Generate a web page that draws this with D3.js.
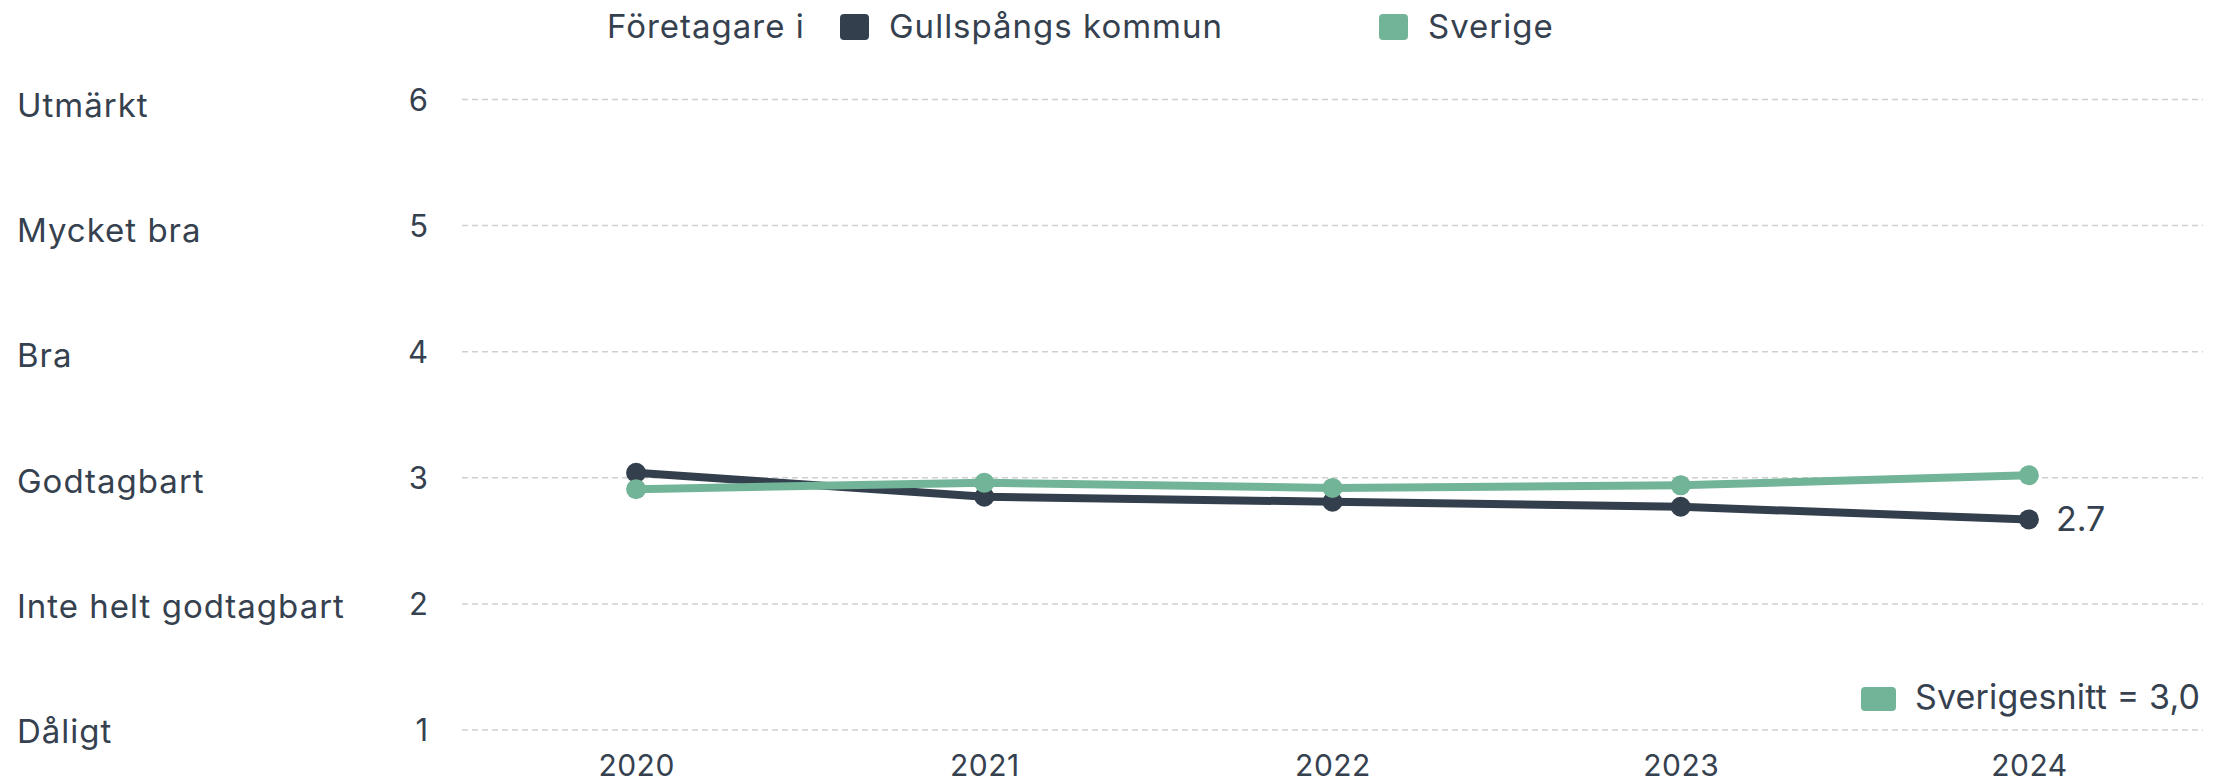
<!DOCTYPE html>
<html>
<head>
<meta charset="utf-8">
<script src="https://cdn.jsdelivr.net/npm/d3@7"></script>
<style>
  body { margin: 0; background: #fff; }
  svg text { font-family: Inter, "Noto Sans", sans-serif; fill: #36414f; }
</style>
</head>
<body>
<svg id="chart"></svg>
<script>
// data
var years = ["2020", "2021", "2022", "2023", "2024"];
var kommunValues = [3.04, 2.85, 2.81, 2.77, 2.67];
var sverigeValues = [2.91, 2.96, 2.92, 2.94, 3.02];
var yTicks = [1, 2, 3, 4, 5, 6];
var yCategories = ["Dåligt", "Inte helt godtagbart", "Godtagbart", "Bra", "Mycket bra", "Utmärkt"];
var seriesNames = ["Gullspångs kommun", "Sverige"];
var lastLabel = "2.7";
var averageLabel = "Sverigesnitt = 3,0";

var width = 2229, height = 784;
var dark = "#333f4c", green = "#72b497";

var svg = d3.select("#chart")
    .attr("width", width)
    .attr("height", height);

// scales
var xScale = d3.scalePoint()
    .domain(years)
    .range([462, 2203])
    .padding(0.5);

var yScale = d3.scaleLinear()
    .domain([1, 6])
    .range([730, 99.5]);

// the word labels sit a bit lower than the grid lines at the top
var labelScale = d3.scaleLinear()
    .domain([1, 6])
    .range([731, 105]);

// grid lines
svg.append("g")
    .selectAll("line")
    .data(yTicks)
    .join("line")
    .attr("x1", 462)
    .attr("x2", 2203)
    .attr("y1", function(d) { return yScale(d); })
    .attr("y2", function(d) { return yScale(d); })
    .attr("stroke", "#cfcfcf")
    .attr("stroke-width", 1.5)
    .attr("stroke-dasharray", "6,4");

// y tick numbers
svg.append("g")
    .selectAll("text")
    .data(yTicks)
    .join("text")
    .attr("x", 428)
    .attr("y", function(d) { return yScale(d) + 11; })
    .attr("text-anchor", "end")
    .style("font-size", "31px")
    .text(function(d) { return d; });

// y category labels
svg.append("g")
    .selectAll("text")
    .data(yTicks)
    .join("text")
    .attr("x", 17)
    .attr("y", function(d) { return labelScale(d) + 12; })
    .style("font-size", "33px")
    .style("letter-spacing", "1px")
    .text(function(d, i) { return yCategories[i]; });

// x axis labels
svg.append("g")
    .attr("transform", "translate(0,776)")
    .call(d3.axisBottom(xScale).tickSize(0).tickPadding(0))
    .call(function(g) { g.select(".domain").remove(); })
    .selectAll("text")
    .attr("dy", 0)
    .style("font-family", "Inter, sans-serif")
    .style("font-size", "30px")
    .style("letter-spacing", "0.5px")
    .style("fill", "#36414f");

var line = d3.line()
    .x(function(d, i) { return xScale(years[i]); })
    .y(function(d) { return yScale(d); });

function drawSeries(values, color) {
    svg.append("path")
        .datum(values)
        .attr("d", line)
        .attr("fill", "none")
        .attr("stroke", color)
        .attr("stroke-width", 8)
        .attr("stroke-linejoin", "round");

    svg.append("g")
        .selectAll("circle")
        .data(values)
        .join("circle")
        .attr("cx", function(d, i) { return xScale(years[i]); })
        .attr("cy", function(d) { return yScale(d); })
        .attr("r", 10)
        .attr("fill", color);
}

drawSeries(kommunValues, dark);
drawSeries(sverigeValues, green);

// end label
svg.append("text")
    .attr("x", xScale(years[years.length - 1]) + 27)
    .attr("y", yScale(kommunValues[kommunValues.length - 1]) + 12)
    .style("font-size", "34px")
    .text(lastLabel);

// top legend
var legend = svg.append("g");
legend.append("text")
    .attr("x", 607)
    .attr("y", 38)
    .style("font-size", "33px")
    .style("letter-spacing", "1px")
    .text("Företagare i");

var legendX = [840, 1379];
seriesNames.forEach(function(name, i) {
    legend.append("rect")
        .attr("x", legendX[i])
        .attr("y", 14)
        .attr("width", 29)
        .attr("height", 26)
        .attr("rx", 4)
        .attr("fill", i === 0 ? dark : green);
    legend.append("text")
        .attr("x", legendX[i] + 49)
        .attr("y", 38)
        .style("font-size", "33px")
        .style("letter-spacing", "1px")
        .text(name);
});

// average legend
svg.append("rect")
    .attr("x", 1861)
    .attr("y", 687)
    .attr("width", 35)
    .attr("height", 24)
    .attr("rx", 4)
    .attr("fill", green);
svg.append("text")
    .attr("x", 1915)
    .attr("y", 709)
    .attr("textLength", 285)
    .attr("lengthAdjust", "spacing")
    .style("font-size", "34px")
    .text(averageLabel);
</script>
</body>
</html>
